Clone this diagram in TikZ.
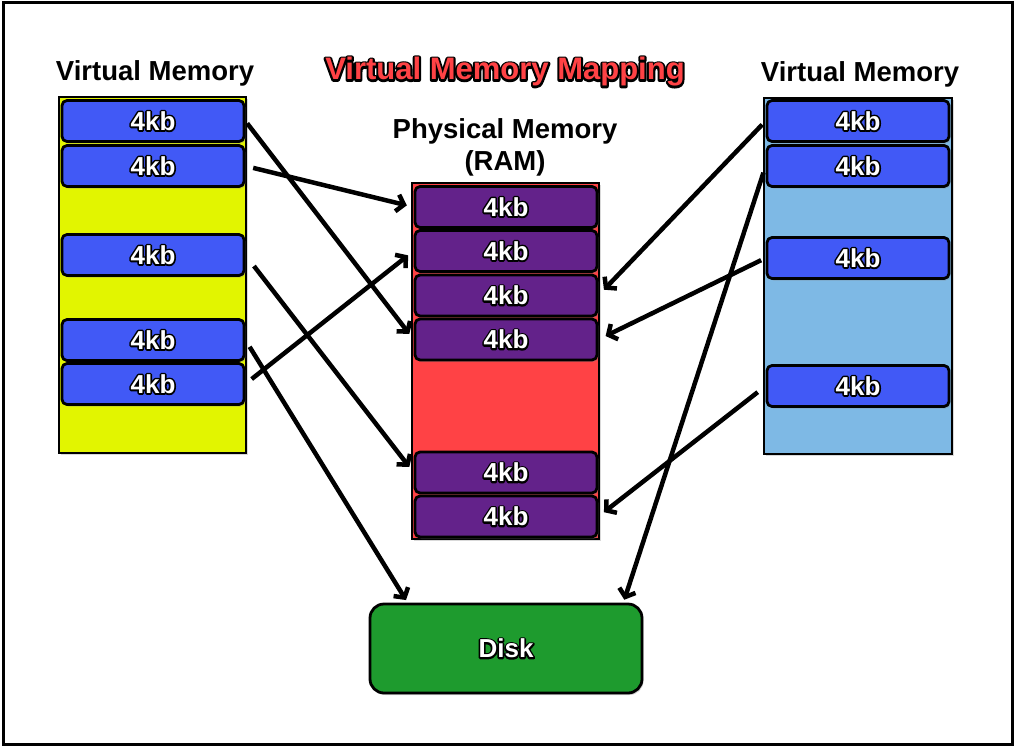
\documentclass[tikz,border=0pt]{standalone}
\usepackage{fontspec}
\setmainfont{Liberation Sans}
\newfontface\edgefont{Liberation Sans Bold}[FakeBold=13]
\usetikzlibrary{arrows.meta,calc,shadows}
\definecolor{vmyellow}{HTML}{E2F500}
\definecolor{vmblue}{HTML}{4159F6}
\definecolor{vmsky}{HTML}{7EB9E5}
\definecolor{ramred}{HTML}{FF4245}
\definecolor{rampurple}{HTML}{63228A}
\definecolor{diskgreen}{HTML}{1E9B2E}
% black edge under coloured bold text
\newcommand{\edged}[2]{\rlap{\edgefont\color{black}#2}{\bfseries\color{#1}#2}}
\begin{document}
\begin{tikzpicture}[x=1pt,y=-1pt,>={Straight Barb[length=7pt,width=17pt]},
  page/.style={draw,line width=2.8pt,line join=round,rounded corners=5pt,minimum width=182pt,
    minimum height=41pt,inner sep=0pt,font=\fontsize{26}{30}\selectfont,
    drop shadow={opacity=0.35,shadow xshift=1.5pt,shadow yshift=-2pt}},
  column/.style={draw,line width=2pt,drop shadow={opacity=0.3,shadow xshift=1.5pt,shadow yshift=-2pt}},
  heading/.style={font=\fontsize{27.5}{32}\selectfont\bfseries,align=center},
  link/.style={->,line width=4.5pt}]
\useasboundingbox (0,0) rectangle (1016,749);
\draw[line width=3pt] (3,3) rectangle (1012,744);
% title
\node[font=\fontsize{31}{34}\selectfont,line join=round] (title) at (505,72) {\edged{ramred}{Virtual Memory Mapping}};
% left virtual memory
\node[heading] (lhead) at (155,73) {Virtual Memory};
\fill[column,fill=vmyellow] (59,97) rectangle (246,453);
\node[page,fill=vmblue] (lv1) at (153,121) {\edged{white}{4kb}};
\node[page,fill=vmblue] (lv2) at (153,166) {\edged{white}{4kb}};
\node[page,fill=vmblue] (lv3) at (153,255) {\edged{white}{4kb}};
\node[page,fill=vmblue] (lv4) at (153,340) {\edged{white}{4kb}};
\node[page,fill=vmblue] (lv5) at (153,384) {\edged{white}{4kb}};
% physical memory
\node[heading] (phead) at (505,147) {Physical Memory\\(RAM)};
\fill[column,fill=ramred] (412,183) rectangle (599,539);
\node[page,fill=rampurple] (pm1) at (506,207) {\edged{white}{4kb}};
\node[page,fill=rampurple] (pm2) at (506,251) {\edged{white}{4kb}};
\node[page,fill=rampurple] (pm3) at (506,295.5) {\edged{white}{4kb}};
\node[page,fill=rampurple] (pm4) at (506,339.5) {\edged{white}{4kb}};
\node[page,fill=rampurple] (pm5) at (506,472.5) {\edged{white}{4kb}};
\node[page,fill=rampurple] (pm6) at (506,516.5) {\edged{white}{4kb}};
% right virtual memory
\node[heading] (rhead) at (860,74) {Virtual Memory};
\fill[column,fill=vmsky] (764,98) rectangle (952,454);
\node[page,fill=vmblue] (rv1) at (858,121) {\edged{white}{4kb}};
\node[page,fill=vmblue] (rv2) at (858,166) {\edged{white}{4kb}};
\node[page,fill=vmblue] (rv3) at (858,258) {\edged{white}{4kb}};
\node[page,fill=vmblue] (rv4) at (858,386) {\edged{white}{4kb}};
% disk
\node[page,fill=diskgreen,rounded corners=14pt,minimum width=272pt,minimum height=89pt] (disk) at (506,648.5) {\edged{white}{Disk}};
\coordinate (diskl) at ($(disk.north west)+(39,0)$);
\coordinate (diskr) at ($(disk.north east)+(-20,0)$);
% mappings
\draw[link,shorten <=3pt,shorten >=7pt] (lv1.east) -- (pm4.west);
\draw[link,shorten <=8pt,shorten >=7pt] (lv2.east) -- (pm1.west);
\draw[link,shorten <=14pt,shorten >=7pt] (lv3.east) -- (pm5.west);
\draw[link,shorten <=8pt,shorten >=7pt] (lv5.east) -- (pm2.west);
\draw[link,shorten <=8pt,shorten >=3pt] (lv4.east) -- (diskl);
\draw[link,shorten <=5pt,shorten >=8pt] (rv1.west) -- (pm3.east);
\draw[link,shorten <=5pt,shorten >=8pt] (rv3.west) -- (pm4.east);
\draw[link,shorten <=7pt,shorten >=3pt] (rv2.west) -- (diskr);
\draw[link,shorten <=10pt,shorten >=7pt] (rv4.west) -- (pm6.east);
\end{tikzpicture}
\end{document}
